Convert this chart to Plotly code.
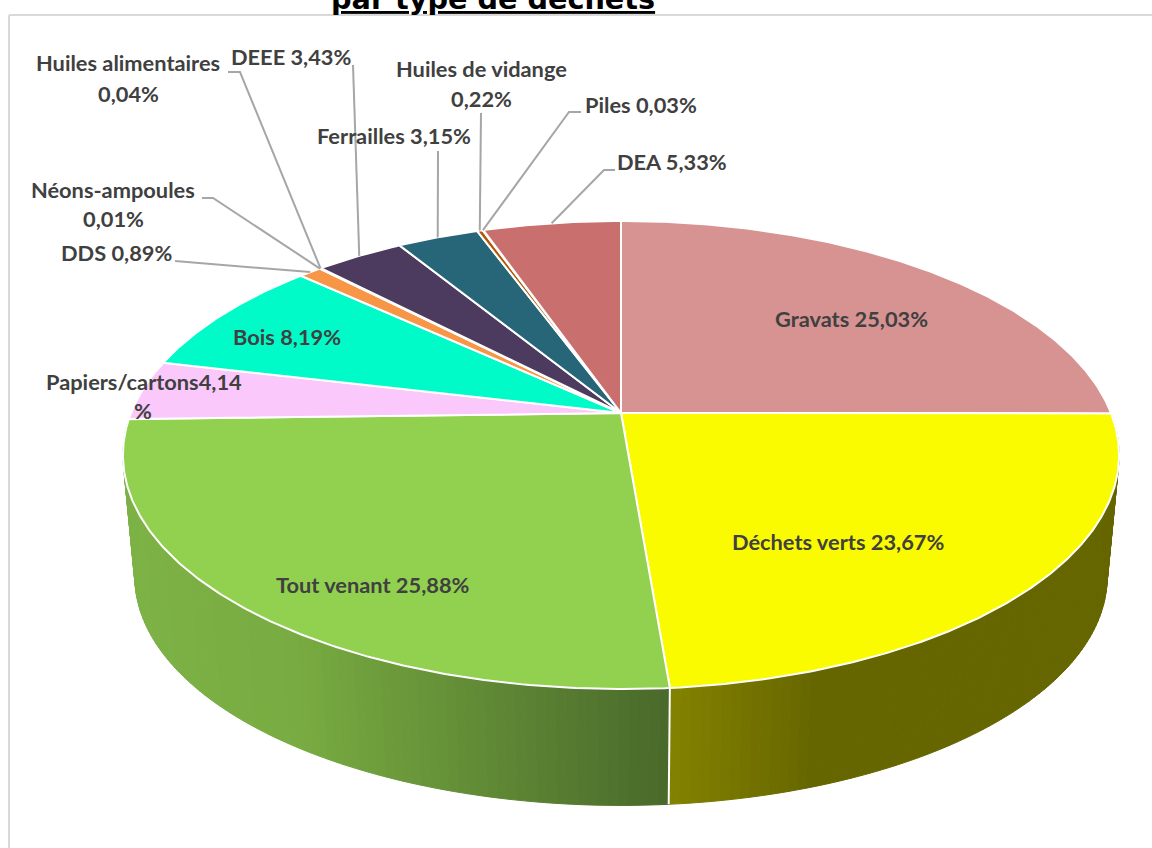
import math
import plotly.graph_objects as go

# ---------- data ----------
names = ["Gravats", "Déchets verts", "Tout venant", "Papiers/cartons", "Bois", "DDS",
         "Néons-ampoules", "Huiles alimentaires", "DEEE", "Ferrailles",
         "Huiles de vidange", "Piles", "DEA"]
values = [25.03, 23.67, 25.88, 4.14, 8.19, 0.89, 0.01, 0.04, 3.43, 3.15, 0.22, 0.03, 5.33]
colors = ["#D79392", "#FBFB00", "#92D050", "#FBC8FB", "#00FBC8", "#F79646", "#8064A2",
          "#4BACC6", "#4D3A5F", "#276678", "#B65708", "#31859C", "#C96F6D"]
title_text = "par type de déchets"

# ---------- scene geometry (perspective projection of the disc) ----------
W, H = 1152, 848
CX, CY = 621, 413
A, B, K = 490, 226.5, 0.1795
BOTTOM_CY, BOTTOM_S = 536, 0.976
TOTAL = sum(values)


def project(angle, bottom=False):
    u, v = math.sin(angle), math.cos(angle)
    w = 1 + K * v
    s = BOTTOM_S if bottom else 1
    cy = BOTTOM_CY if bottom else CY
    return CX + s * A * u / w, cy - s * B * v / w


def frac_to_angle(f):
    return 2 * math.pi * f / TOTAL


starts, c = [], 0
for v in values:
    starts.append(c)
    c += v
ends = [s + v for s, v in zip(starts, values)]


def as_rgb(c):
    return f"rgb({c[0]},{c[1]},{c[2]})"


OLIVE = [(669, (132, 130, 0)), (815, (102, 102, 0))]
GREEN = [(136, (125, 178, 70)), (300, (120, 171, 65)), (668, (73, 105, 42))]


def wall_color(x, stops):
    if x <= stops[0][0]:
        return as_rgb(stops[0][1])
    for (x0, c0), (x1, c1) in zip(stops, stops[1:]):
        if x <= x1:
            t = (x - x0) / (x1 - x0)
            return as_rgb([round(a + (b - a) * t) for a, b in zip(c0, c1)])
    return as_rgb(stops[-1][1])


fig = go.Figure()


def poly(xs, ys, fill, line_color, line_width):
    fig.add_trace(go.Scatter(x=xs, y=ys, mode="lines", fill="toself", fillcolor=fill,
                             line=dict(color=line_color, width=line_width),
                             hoverinfo="skip", showlegend=False))


# side wall: the two front slices, cut in strips to give the gradient
for idx, stops in ((1, OLIVE), (2, GREEN)):
    a0, a1 = frac_to_angle(starts[idx]), frac_to_angle(ends[idx])
    n = max(2, int(math.degrees(a1 - a0)))
    for i in range(n):
        p = a0 + (a1 - a0) * i / n
        q = a0 + (a1 - a0) * (i + 1) / n
        pts = [project(p), project(q), project(q, True), project(p, True)]
        xm = sum(pt[0] for pt in pts) / 4
        col = wall_color(xm, stops)
        poly([pt[0] for pt in pts] + [pts[0][0]], [pt[1] for pt in pts] + [pts[0][1]], col, col, 1)

# white edge between the two wall pieces
ang = frac_to_angle(ends[1])
pa, pb = project(ang), project(ang, True)
fig.add_trace(go.Scatter(x=[pa[0], pb[0]], y=[pa[1], pb[1]], mode="lines",
                         line=dict(color="white", width=2), hoverinfo="skip", showlegend=False))

# top disc
for s, e, col in zip(starts, ends, colors):
    a0, a1 = frac_to_angle(s), frac_to_angle(e)
    n = max(2, int(math.degrees(a1 - a0) * 2))
    arc = [project(a0 + (a1 - a0) * i / n) for i in range(n + 1)]
    xs = [CX] + [p[0] for p in arc] + [CX]
    ys = [CY] + [p[1] for p in arc] + [CY]
    poly(xs, ys, col, "white", 2)

# ---------- labels ----------
LABEL_COLOR = "#404040"
FONT = "Lato"
FS = 21.8


def pct(v):
    return f"{v:.2f}".replace(".", ",") + "%"


label_place = {
    "Gravats": [(851, 318.5)],
    "Déchets verts": [(838, 541.5)],
    "Tout venant": [(373, 584.5)],
    "Papiers/cartons": [(144, 381.5), (143, 410.5)],
    "Bois": [(287, 336.5)],
    "DDS": [(116, 252.5)],
    "Néons-ampoules": [(113, 189.5), (113, 218.5)],
    "Huiles alimentaires": [(128, 62.5), (128, 93.5)],
    "DEEE": [(291, 56.5)],
    "Ferrailles": [(394, 135.5)],
    "Huiles de vidange": [(481, 68.5), (481, 98.5)],
    "Piles": [(641, 104.5)],
    "DEA": [(672, 161.5)],
}

leader_from = {
    "DDS": [(175, 261)],
    "Néons-ampoules": [(202, 198), (213, 198)],
    "Huiles alimentaires": [(228, 72), (240, 72)],
    "DEEE": [(353, 65)],
    "Ferrailles": [(438, 151)],
    "Huiles de vidange": [(481, 113)],
    "Piles": [(581, 112), (569, 112)],
    "DEA": [(615, 170), (604, 170)],
}

annotations = []
for name, v, s, e in zip(names, values, starts, ends):
    places = label_place[name]
    if name == "Papiers/cartons":
        lines = [name + pct(v)[:-1], "%"]
    elif len(places) == 2:
        lines = [name, pct(v)]
    else:
        lines = [f"{name} {pct(v)}"]
    for (x, y), text in zip(places, lines):
        annotations.append(dict(x=x, y=y, text=text, showarrow=False, xref="x", yref="y",
                                xanchor="center", yanchor="middle",
                                font=dict(family=FONT, size=FS, color=LABEL_COLOR, weight="bold")))
    if name in leader_from:
        tip = project(frac_to_angle((s + e) / 2))
        pts = leader_from[name] + [tip]
        fig.add_trace(go.Scatter(x=[p[0] for p in pts], y=[p[1] for p in pts], mode="lines",
                                 line=dict(color="#A6A6A6", width=2),
                                 hoverinfo="skip", showlegend=False))

annotations.append(dict(x=493, y=18, text=f"<u>{title_text}</u>", showarrow=False, xref="x", yref="y",
                        xanchor="center", yanchor="bottom",
                        font=dict(family="DejaVu Sans", size=28.7, color="black", weight="bold")))

shapes = [
    dict(type="line", x0=9, x1=9, y0=15, y1=H, xref="x", yref="y",
         line=dict(color="#D9D9D9", width=2), layer="below"),
    dict(type="line", x0=9, x1=W, y0=15, y1=15, xref="x", yref="y",
         line=dict(color="#D9D9D9", width=2), layer="below"),
]

fig.update_layout(
    width=W, height=H, margin=dict(l=0, r=0, t=0, b=0),
    paper_bgcolor="white", plot_bgcolor="white", showlegend=False,
    xaxis=dict(range=[0, W], visible=False, fixedrange=True),
    yaxis=dict(range=[H, 0], visible=False, fixedrange=True),
    annotations=annotations, shapes=shapes,
)
fig.write_html("out.html", post_script="document.body.style.margin='0';document.body.style.overflow='hidden';",
               config=dict(displayModeBar=False))
